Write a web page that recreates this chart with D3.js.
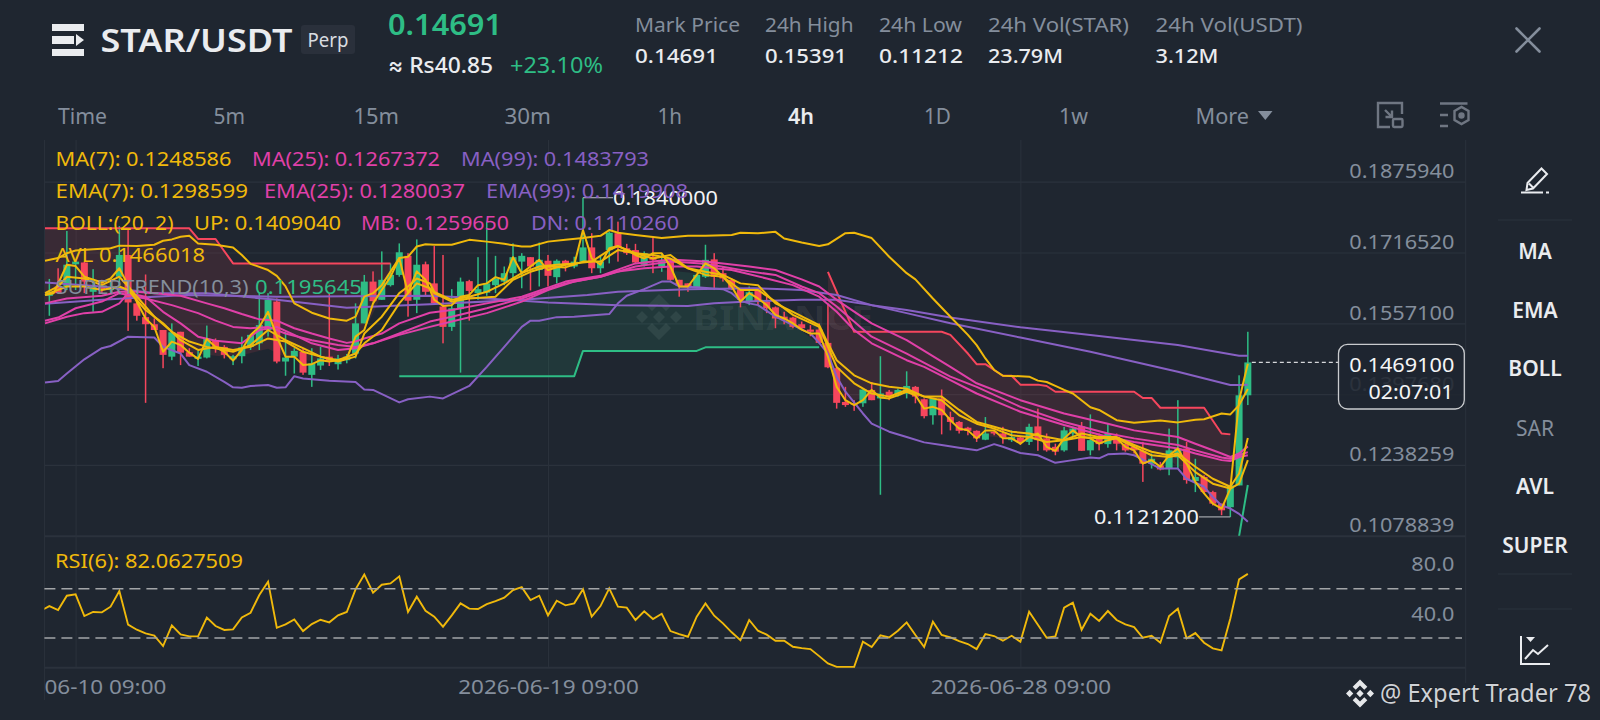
<!DOCTYPE html>
<html>
<head>
<meta charset="utf-8">
<title>STAR/USDT</title>
<script src="https://cdn.jsdelivr.net/npm/d3@7"></script>
<style>
html,body{margin:0;padding:0;background:#1f2630;overflow:hidden}
svg{display:block}
text{font-family:"Noto Sans",Inter,sans-serif}
</style>
</head>
<body>
<div id="chart"></div>
<script>
// prices are kept in ten-thousandths (1469 = 0.1469)
var firstCandle=-3;
var opens=[1619,1640,1640,1690,1694,1628,1640,1632,1662,1711,
1602,1571,1555,1542,1482,1538,1492,1477,1480,1519,
1504,1476,1483,1504,1512,1542,1606,1471,1482,1493,
1441,1462,1482,1465,1474,1489,1557,1651,1610,1643,
1666,1709,1610,1690,1647,1595,1549,1589,1652,1625,
1626,1643,1651,1670,1696,1706,1677,1698,1661,1698,
1685,1696,1728,1681,1722,1760,1726,1722,1689,1707,
1685,1696,1655,1647,1638,1662,1701,1670,1655,1634,
1606,1634,1606,1593,1572,1570,1555,1543,1543,1513,
1456,1380,1377,1377,1407,1388,1403,1395,1399,1414,
1386,1350,1388,1346,1335,1322,1315,1295,1313,1309,
1294,1300,1290,1325,1298,1279,1271,1309,1325,1271,
1298,1285,1301,1285,1279,1270,1241,1237,1230,1255,
1275,1202,1211,1177,1151,1143,1192,1395];
var closes=[1628,1625,1689,1696,1651,1640,1632,1640,1711,1604,
1574,1555,1542,1486,1537,1491,1482,1482,1523,1501,
1486,1483,1503,1531,1553,1610,1471,1480,1495,1446,
1467,1478,1471,1478,1482,1557,1651,1607,1655,1666,
1717,1608,1689,1628,1602,1549,1591,1651,1630,1634,
1647,1658,1670,1706,1709,1685,1700,1664,1698,1690,
1696,1728,1681,1696,1761,1728,1715,1694,1715,1700,
1698,1655,1641,1640,1666,1700,1662,1658,1634,1610,
1627,1606,1591,1568,1565,1549,1546,1538,1513,1458,
1378,1373,1374,1408,1384,1399,1392,1407,1416,1392,
1348,1388,1350,1335,1315,1315,1298,1309,1309,1300,
1301,1290,1324,1294,1271,1268,1316,1320,1270,1294,
1285,1309,1286,1271,1271,1241,1252,1228,1271,1275,
1204,1211,1177,1151,1136,1192,1395,1469];
var highs=[1657,1681,1765,1696,1696,1679,1655,1655,1776,1767,
1617,1667,1568,1542,1557,1538,1501,1495,1552,1523,
1508,1486,1527,1531,1625,1625,1613,1538,1501,1501,
1501,1504,1625,1486,1488,1602,1666,1674,1719,1692,
1737,1715,1746,1696,1731,1711,1634,1660,1655,1706,
1786,1709,1685,1737,1715,1706,1739,1711,1701,1700,
1707,1840,1760,1711,1764,1786,1736,1736,1719,1749,
1715,1703,1655,1647,1668,1734,1715,1685,1658,1636,
1640,1636,1617,1595,1583,1572,1561,1553,1557,1602,
1459,1414,1384,1408,1425,1483,1407,1410,1449,1416,
1388,1388,1408,1358,1337,1324,1316,1346,1316,1324,
1316,1301,1331,1365,1309,1286,1324,1324,1335,1352,
1309,1331,1309,1290,1285,1290,1264,1245,1320,1384,
1290,1252,1215,1180,1151,1192,1440,1538];
var lows=[1574,1625,1632,1632,1625,1583,1625,1625,1632,1540,
1563,1378,1542,1456,1474,1463,1482,1461,1478,1491,
1478,1463,1467,1497,1497,1527,1467,1439,1444,1441,
1414,1452,1461,1453,1467,1478,1557,1606,1610,1640,
1662,1572,1580,1617,1602,1512,1540,1446,1563,1610,
1619,1625,1643,1655,1636,1631,1640,1640,1647,1674,
1681,1696,1670,1670,1692,1696,1711,1692,1685,1670,
1673,1653,1617,1628,1636,1659,1632,1651,1632,1593,
1598,1598,1580,1546,1555,1546,1542,1528,1512,1456,
1365,1369,1360,1369,1384,1171,1384,1392,1388,1377,
1343,1329,1307,1316,1309,1305,1290,1294,1305,1286,
1290,1283,1283,1270,1268,1260,1268,1301,1270,1260,
1271,1277,1271,1268,1264,1200,1230,1226,1215,1230,
1196,1177,1175,1147,1125,1121,1192,1373];

// indicator lines: [candle index, price]
var ma7=[[-3.5,1621],[-1,1640],[1,1640],[3,1632],[5,1640],[6,1632],[8,1587],[10,1557],[12,1519],[14,1497],[16,1504],[18,1497],[20,1504],[22,1523],[24,1516],[26,1493],[28,1482],[30,1474],[32,1489],[33,1512],[35,1542],[37,1602],[38,1625],[39,1647],[40.5,1636],[41,1625],[43,1606],[45,1613],[48,1617],[50,1655],[52,1673],[54,1685],[56,1683],[58,1696],[60,1696],[62,1722],[64,1715],[66,1703],[68,1711],[70,1681],[72,1666],[74,1662],[76,1632],[78,1632],[80,1606],[82,1576],[85,1549],[86,1504],[87,1459],[89,1422],[91,1399],[93,1392],[95,1407],[97,1392],[99,1384],[101,1350],[103,1331],[105,1320],[107,1305],[109,1301],[111,1290],[113,1294],[115,1301],[117,1298],[119,1298],[121,1279],[123,1260],[125,1256],[126,1260],[128,1222],[130,1196],[132,1185],[133,1196],[134,1249]];
var ema7=[[-3.5,1625],[-2,1640],[-1,1662],[1,1658],[3,1643],[5,1662],[6,1640],[9,1572],[11,1538],[13,1516],[15,1504],[18,1493],[20,1508],[22,1542],[24,1519],[26,1501],[28,1482],[30,1471],[32,1482],[33,1534],[35,1572],[37,1625],[38,1640],[39,1658],[40.5,1647],[41,1628],[43,1610],[45,1617],[47,1628],[49,1647],[51,1670],[53,1685],[55,1689],[57,1692],[59,1696],[61,1722],[62,1731],[64,1715],[66,1711],[68,1703],[70,1681],[72,1673],[74,1666],[76,1647],[78,1643],[80,1602],[82,1583],[85,1553],[86,1512],[87,1474],[89,1440],[91,1422],[93,1414],[95,1410],[97,1392],[99,1392],[101,1362],[103,1335],[105,1324],[107,1313],[109,1309],[111,1301],[113,1294],[115,1309],[117,1301],[119,1301],[121,1283],[123,1268],[125,1260],[126,1264],[128,1234],[130,1207],[132,1189],[133,1219],[134,1299]];
var avl=[[-3.5,1621],[-2.5,1625],[-1,1689],[0,1686],[1,1662],[3,1649],[4,1658],[5,1681],[6,1643],[8,1568],[9,1549],[10,1493],[11,1516],[12,1508],[13,1491],[14,1477],[15,1522],[16,1504],[17,1493],[18,1473],[19,1497],[20,1531],[21,1549],[22,1583],[23,1527],[24,1482],[25,1482],[26,1463],[27,1465],[28,1474],[29,1471],[30,1474],[31,1478],[32,1527],[33,1542],[34,1602],[35,1632],[36,1662],[37,1704],[38,1625],[39,1674],[40,1655],[41,1610],[42,1596],[43,1598],[44,1617],[45,1621],[46,1643],[47,1647],[48,1661],[49,1655],[50,1706],[51,1670],[52,1685],[53,1700],[54,1677],[56,1689],[57,1689],[58,1767],[59,1703],[60,1689],[61,1726],[62,1731],[63,1722],[64,1711],[65,1703],[66,1715],[67,1715],[68,1685],[69,1640],[70,1640],[71,1666],[72,1692],[73,1681],[74,1662],[75,1640],[76,1606],[77,1625],[78,1613],[79,1598],[80,1576],[81,1568],[82,1557],[83,1543],[84,1534],[85,1534],[86,1482],[87,1414],[88,1384],[89,1373],[90,1384],[91,1407],[92,1390],[93,1388],[94,1395],[95,1403],[96,1395],[97,1365],[98,1369],[99,1362],[100,1339],[101,1320],[102,1316],[103,1298],[104,1316],[105,1316],[106,1298],[107,1298],[108,1286],[109,1301],[110,1309],[111,1279],[112,1270],[113,1298],[114,1316],[115,1301],[116,1298],[117,1286],[118,1294],[119,1298],[120,1279],[121,1271],[122,1241],[123,1249],[124,1234],[125,1260],[126,1275],[127,1241],[128,1200],[129,1174],[130,1151],[131,1140],[132,1185],[133,1384],[134,1466]];
var bollUp=[[-3.5,1698],[-2,1704],[-1,1715],[0,1721],[2,1724],[4,1726],[5,1732],[7,1731],[9,1734],[10,1743],[11,1746],[12,1752],[13,1754],[14,1737],[16,1734],[18,1728],[19,1711],[20,1691],[22,1677],[23,1664],[24,1640],[25,1602],[27,1581],[29,1568],[31,1563],[32,1572],[33,1617],[34,1625],[35,1643],[37,1704],[38,1707],[39,1730],[40,1735],[41,1734],[43,1734],[45,1745],[47,1741],[49,1736],[51,1730],[52,1730],[54,1741],[56,1745],[58,1749],[60,1754],[61,1767],[62,1761],[64,1756],[67,1749],[70,1754],[72,1754],[75,1756],[76,1761],[78,1760],[80,1763],[81,1748],[83,1739],[85,1731],[86,1735],[88,1760],[89,1761],[91,1749],[93,1707],[95,1670],[96,1656],[98,1613],[100,1572],[102,1531],[103,1508],[104,1478],[105,1452],[106,1439],[108,1438],[109,1437],[110,1428],[111,1425],[112,1416],[113,1407],[114,1399],[116,1368],[117,1362],[119,1339],[121,1333],[124,1338],[126,1334],[128,1340],[129,1341],[131,1354],[132,1352],[133,1373],[134,1409]];
var bollDn=[[-3.5,1424],[-2,1427],[-1,1444],[1,1476],[3,1501],[4,1506],[6,1527],[9,1525],[10,1504],[12,1489],[13,1463],[15,1448],[17,1425],[18,1413],[19,1412],[20,1416],[22,1418],[23,1412],[24,1413],[25,1438],[26,1433],[29,1428],[32,1425],[33,1408],[34,1407],[37,1379],[38,1386],[40.5,1392],[42,1388],[45,1416],[47,1459],[49,1504],[51,1549],[52,1563],[53,1563],[55,1571],[57,1572],[61,1578],[62,1602],[63,1619],[65,1634],[67,1651],[68,1651],[69,1640],[71,1638],[74,1634],[75,1625],[76,1608],[77,1602],[78,1598],[80,1572],[82,1553],[84,1534],[85,1513],[86,1489],[87,1437],[88,1403],[90,1354],[91,1331],[93,1313],[95,1301],[97,1289],[99,1283],[101,1277],[103,1271],[105,1285],[106,1279],[108,1265],[110,1260],[112,1243],[114,1249],[116,1255],[117,1253],[118,1262],[120,1264],[121,1260],[122,1250],[124,1230],[126,1230],[127,1207],[129,1189],[130,1166],[131,1147],[132,1140],[133,1128],[134,1110]];
var ema25=[[-3.5,1602],[-1,1613],[3,1619],[5,1628],[7,1628],[10,1623],[12,1619],[15,1602],[17,1591],[19,1578],[21,1566],[23,1563],[25,1546],[27,1534],[29,1523],[31,1513],[32,1516],[33,1523],[35,1534],[37,1557],[40.5,1581],[43,1587],[47,1602],[51,1617],[56,1651],[60,1664],[64,1692],[68,1701],[72,1696],[77,1685],[80,1677],[83,1656],[85,1640],[87,1610],[91,1557],[95,1519],[100,1459],[103,1422],[108,1384],[113,1354],[118,1331],[121,1316],[126,1301],[128,1286],[131,1264],[132,1256],[133,1264],[134,1280]];
var ma25=[[-3.5,1563],[-2,1570],[0,1591],[3,1606],[5,1625],[8,1613],[11,1598],[14,1580],[16,1563],[18,1549],[20,1546],[22,1549],[24,1534],[27,1519],[30,1508],[32,1504],[34,1512],[37,1534],[40.5,1561],[43,1572],[47,1591],[51,1613],[56,1647],[60,1662],[64,1685],[68,1696],[72,1691],[77,1674],[80,1666],[83,1640],[85,1625],[87,1595],[91,1527],[95,1489],[100,1437],[103,1414],[108,1369],[113,1335],[118,1309],[121,1298],[126,1283],[128,1271],[131,1255],[132,1252],[133,1260],[134,1267]];
var bollMb=[[-3.5,1557],[-1,1572],[1,1580],[3,1583],[5,1602],[6,1625],[8,1617],[10,1583],[12,1557],[14,1527],[16,1518],[19,1512],[21,1542],[23,1549],[25,1531],[27,1512],[30,1497],[32,1501],[34,1512],[37,1531],[40.5,1549],[43,1561],[47,1580],[51,1606],[54,1632],[57,1651],[60,1662],[62,1674],[65,1681],[68,1685],[71,1685],[75,1677],[79,1658],[82,1643],[85,1617],[87,1583],[89,1542],[91,1512],[95,1474],[97,1459],[100,1429],[103,1399],[108,1358],[113,1328],[118,1301],[121,1290],[126,1275],[128,1264],[131,1249],[132,1247],[133,1256],[134,1260]];
var ma99=[[-3.5,1649],[3,1640],[9,1625],[15,1625],[23,1610],[31,1592],[40.5,1600],[51,1610],[58.5,1621],[62,1628],[70,1634],[77.5,1636],[81,1634],[83,1632],[87,1621],[91,1598],[95,1587],[100,1570],[108,1548],[116,1531],[126,1508],[133,1484],[134,1484]];
var ema99=[[-3.5,1601],[3,1610],[9,1617],[12.7,1621],[23,1617],[40.5,1619],[47,1613],[54,1604],[62,1598],[70,1596],[73,1602],[77.5,1607],[83,1610],[87,1610],[91,1598],[95,1580],[100,1557],[108,1525],[116,1493],[126,1448],[132,1418],[133,1418],[134,1419]];

// supertrend segments and the edge their shading closes on
var superDownA=[[-3.5,1771],[13,1771],[14,1747],[16,1747],[18,1692],[36,1692]];
var superDownAEdge=[[-3.5,1600],[3,1620],[6,1625],[8,1570],[10,1510],[13,1490],[18,1480],[22,1500],[24,1480],[28,1470],[31,1478],[33,1540],[36,1660]];
var superUp=[[37,1438],[57,1438],[58,1495],[71,1495],[72,1503],[85,1503]];
var superUpEdge=[[37,1540],[40,1553],[43,1561],[47,1580],[51,1606],[54,1632],[57,1651],[60,1662],[62,1674],[65,1681],[71,1670],[75,1650],[78,1620],[81,1570],[85,1510]];
var superDownB=[[86,1673],[89,1538],[99,1538],[100,1531],[102,1489],[103,1465],[104,1465],[106,1439],[107,1439],[108,1419],[110,1419],[111,1416],[112,1403],[121,1403],[122,1389],[123,1389],[124,1367],[129,1367],[131,1309],[132,1307]];
var superDownBEdge=[[86,1510],[88,1375],[90,1390],[95,1400],[99,1360],[103,1305],[108,1295],[113,1295],[118,1295],[122,1250],[125,1250],[128,1205],[131,1140],[132,1160]];
var superUpLast=[[133,1078],[134,1193]];

var firstRsi=-4;
var rsiValues=[52,55.9,52.7,64.3,65.4,47.8,51.1,50.8,55.4,68.1,
40.8,36.7,33.7,31.9,23.5,40.2,32.9,31.3,31.3,46.5,
39.7,36.5,37,46.7,50.5,64.9,75.7,38.3,41,45.1,
35.6,41.3,44.8,42.7,48.4,51.1,69.5,81.6,66.7,73.2,
74.3,80,51.1,63.5,52.1,47.3,39.2,48.4,58.1,53.8,
53.5,57.5,60,62.7,68.9,71.3,60.8,64.3,48.4,60.3,
56.5,58.1,69.5,47.3,55.9,70.3,55.4,54.6,44.6,51.6,
45.4,49.7,35.6,33.2,31,47.3,58.1,48.1,41.9,34.6,
28.3,44.6,35.9,32.7,27.8,27.8,22.9,21.8,21,15.3,
9.4,6.6,6.6,6.6,27,22.7,32.1,30.5,35.9,42.7,
32.4,22.7,43.2,32.4,30.5,27.5,25.1,21,33.2,31.6,
27.8,31.8,27,51.3,40.8,30.2,31.3,54.6,58.6,36.7,
49.7,43.8,51.9,44.6,41,38.9,30.2,31.8,26.2,47.8,
53.8,29.7,34,26.2,21.6,20,45.9,77.6,82.06];

var priceTicks=[1875.94,1716.52,1557.1,1397.68,1238.259,1078.839];
var rsiTicks=[80,40];
var rsiBands=[70,30];
var timeTicks=[0,54,108];
var timeLabels=["2026-06-10 09:00","2026-06-19 09:00","2026-06-28 09:00"];
var intervals=["Time","5m","15m","30m","1h","4h","1D","1w","More"];
var intervalLeft=[58,213.5,353.5,504.5,657.5,788,924,1059,1195.5];
var intervalWidth=[49,31.5,45.5,46.5,24.5,26,27,29,53.5];
var statNames=["Mark Price","24h High","24h Low","24h Vol(STAR)","24h Vol(USDT)"];
var statValues=["0.14691","0.15391","0.11212","23.79M","3.12M"];
var statLeft=[635,765,879,988,1155.5];
var statNameWidth=[105,88.5,83,141,147];
var statValueWidth=[83,82,84,75,63];
var sideTools=["MA","EMA","BOLL","SAR","AVL","SUPER"];
var sideActive=[true,true,true,false,true,true];

var W=1600,H=720;
var C={bg:"#1f2630",grid:"#2b323c",up:"#2ebd85",down:"#f6465d",gold:"#f0b90b",pink:"#e040a8",purple:"#8860c4",grey:"#848e9c",white:"#eaecef"};
var plotLeft=44.4,plotRight=1465.7,plotTop=140,priceBottom=535.7,rsiBottom=667.7;

var svg=d3.select("#chart").append("svg").attr("width",W).attr("height",H).attr("viewBox","0 0 "+W+" "+H);
svg.append("rect").attr("width",W).attr("height",H).attr("fill",C.bg);

var x=d3.scaleLinear().domain([0,134]).range([75.6,75.6+134*8.748]);
var y=d3.scaleLinear().domain([1875.94,1078.839]).range([181.7,535.7]);
var yRsi=d3.scaleLinear().domain([70,30]).range([588.7,638]);

var defs=svg.append("defs");
function clip(id,x0,y0,x1,y1){
 defs.append("clipPath").attr("id",id).append("rect").attr("x",x0).attr("y",y0).attr("width",x1-x0).attr("height",y1-y0);
}
clip("clipPrice",plotLeft,plotTop,plotRight,priceBottom);
clip("clipRsi",plotLeft,priceBottom,plotRight,rsiBottom+1);
clip("clipAxis",plotLeft,plotTop,plotRight,H);

function label(g,str,px,py,o){
 o=o||{};
 var t=g.append("text").attr("x",px).attr("y",py).text(str)
  .attr("font-size",o.size||20.5).attr("fill",o.fill||C.grey).attr("font-weight",o.weight||400)
  .attr("text-anchor",o.anchor||"start");
 if(o.width) t.attr("textLength",o.width).attr("lengthAdjust","spacingAndGlyphs");
 return t;
}

// grid and axes
var axisG=svg.append("g").attr("clip-path","url(#clipAxis)");
var yAxis=d3.axisRight(y).tickValues(priceTicks).tickSize(plotRight-plotLeft).tickFormat(function(d){return d3.format(".7f")(d/1e4);});
var yAxisG=axisG.append("g").attr("transform","translate("+plotLeft+",0)").call(yAxis);
yAxisG.select(".domain").remove();
yAxisG.selectAll("line").attr("stroke",C.grid).attr("stroke-width",function(d){return d==1078.839?2:1.2;});
yAxisG.selectAll("text").attr("x",1454.3-plotLeft).attr("y",-4).attr("dy",0).attr("text-anchor","end")
 .attr("fill",C.grey).attr("font-size",20.5).attr("font-family",null).attr("textLength",105).attr("lengthAdjust","spacingAndGlyphs");

var xAxis=d3.axisBottom(x).tickValues(timeTicks).tickSize(-(rsiBottom-plotTop)).tickFormat(function(d,i){return timeLabels[i];});
var xAxisG=axisG.append("g").attr("transform","translate(0,"+rsiBottom+")").call(xAxis);
xAxisG.select(".domain").remove();
xAxisG.selectAll("line").attr("stroke",C.grid).attr("stroke-width",1);
xAxisG.selectAll("text").attr("y",26).attr("dy",0).attr("fill",C.grey).attr("font-size",20.5).attr("font-family",null)
 .attr("textLength",180.5).attr("lengthAdjust","spacingAndGlyphs");

var frame=svg.append("g").attr("stroke",C.grid);
frame.append("line").attr("x1",plotLeft).attr("x2",plotLeft).attr("y1",plotTop).attr("y2",700);
frame.append("line").attr("x1",plotRight).attr("x2",plotRight).attr("y1",plotTop).attr("y2",683);
frame.append("line").attr("x1",plotLeft).attr("x2",plotRight).attr("y1",rsiBottom).attr("y2",rsiBottom).attr("stroke-width",2);

// watermark
var mark=svg.append("g").attr("fill","#ffffff").attr("fill-opacity",0.075);
function binanceLogo(g,cx,cy,s){
 var k=s/23;
 var m=g.append("g").attr("transform","translate("+cx+","+cy+") scale("+k+")");
 m.append("path").attr("d","M0-23L12-11 7-6 0-13-7-6-12-11ZM0 23L12 11 7 6 0 13-7 6-12 11ZM-23 0L-17-6-11 0-17 6ZM23 0L17-6 11 0 17 6ZM0-6L6 0 0 6-6 0Z");
}
binanceLogo(mark,659,317,23);
label(mark,"BINANCE",693,330,{size:34,weight:700,fill:"#ffffff",width:180});

// supertrend shading
var line=d3.line().x(function(d){return x(d[0]);}).y(function(d){return y(d[1]);});
var priceG=svg.append("g").attr("clip-path","url(#clipPrice)");
function shade(top,edge,color){
 priceG.append("path").attr("d",line(top.concat(edge.slice().reverse()))+"Z").attr("fill",color).attr("fill-opacity",0.12).attr("stroke","none");
}
shade(superDownA,superDownAEdge,C.down);
shade(superUp,superUpEdge,C.up);
shade(superDownB,superDownBEdge,C.down);

// candles
var candles=opens.map(function(o,i){return {i:i+firstCandle,o:o,h:highs[i],l:lows[i],c:closes[i]};});
var candle=priceG.selectAll("g.candle").data(candles).enter().append("g").attr("class","candle")
 .attr("fill",function(d){return d.c>=d.o?C.up:C.down;});
candle.append("rect").attr("x",function(d){return x(d.i)-0.75;}).attr("width",1.5)
 .attr("y",function(d){return y(d.h);}).attr("height",function(d){return y(d.l)-y(d.h);});
candle.append("rect").attr("x",function(d){return x(d.i)-3.5;}).attr("width",7)
 .attr("y",function(d){return y(Math.max(d.o,d.c));}).attr("height",function(d){return Math.max(1,Math.abs(y(d.o)-y(d.c)));});

function stroke(data,color,w){
 priceG.append("path").datum(data).attr("d",line).attr("fill","none").attr("stroke",color).attr("stroke-width",w||2).attr("stroke-linejoin","round");
}
stroke(superDownA,C.down);stroke(superDownB,C.down);stroke(superUp,C.up);stroke(superUpLast,C.up);
stroke(ma99,C.purple);stroke(ema99,C.purple);stroke(bollDn,C.purple);
stroke(ema25,C.pink);stroke(ma25,C.pink);stroke(bollMb,C.pink);
stroke(bollUp,C.gold);stroke(ma7,C.gold);stroke(ema7,C.gold);stroke(avl,C.gold);

// last price dashes
svg.append("line").attr("x1",x(134)+4).attr("x2",1338).attr("y1",y(1469.1)).attr("y2",y(1469.1))
 .attr("stroke","#d5d7da").attr("stroke-width",1.2).attr("stroke-dasharray","4 3");

// RSI panel
var rsiG=svg.append("g").attr("clip-path","url(#clipRsi)");
var rsiLine=d3.line().x(function(d,i){return x(i+firstRsi);}).y(function(d){return yRsi(d);});
rsiG.append("path").datum(rsiValues).attr("d",rsiLine).attr("fill","none").attr("stroke",C.gold).attr("stroke-width",1.9);
svg.selectAll("line.band").data(rsiBands).enter().append("line").attr("class","band")
 .attr("x1",plotLeft).attr("x2",1462).attr("y1",function(d){return yRsi(d);}).attr("y2",function(d){return yRsi(d);})
 .attr("stroke","#a3a5a8").attr("stroke-width",1.6).attr("stroke-dasharray","11 6");
var rsiAxis=d3.axisRight(yRsi).tickValues(rsiTicks).tickSize(0).tickFormat(d3.format(".1f"));
var rsiAxisG=svg.append("g").call(rsiAxis);
rsiAxisG.select(".domain").remove();
rsiAxisG.selectAll("text").attr("x",1454.3).attr("y",-5.5).attr("dy",0).attr("text-anchor","end")
 .attr("fill",C.grey).attr("font-size",20.5).attr("font-family",null).attr("textLength",43).attr("lengthAdjust","spacingAndGlyphs");

// high / low callouts
var note=svg.append("g");
note.append("path").attr("d","M"+x(58)+" "+y(1840)+"H613").attr("fill","none").attr("stroke","#9a9ea4").attr("stroke-width",1.3);
note.append("path").attr("d","M1199 "+y(1121.2)+"H"+x(132)).attr("fill","none").attr("stroke","#9a9ea4").attr("stroke-width",1.3);
label(note,"0.1840000",613,205,{fill:"#f2f3f5",width:105});
label(note,"0.1121200",1094,524,{fill:"#f2f3f5",width:105});

// indicator legend
var leg=svg.append("g");
var row1=165.7,row2=197.7,row3=230,row4=261.7,row5=294;
label(leg,"MA(7): 0.1248586",55.5,row1,{fill:C.gold,width:176});
label(leg,"MA(25): 0.1267372",252,row1,{fill:C.pink,width:188});
label(leg,"MA(99): 0.1483793",461,row1,{fill:C.purple,width:188});
label(leg,"EMA(7): 0.1298599",55.5,row2,{fill:C.gold,width:192.5});
label(leg,"EMA(25): 0.1280037",264,row2,{fill:C.pink,width:201});
label(leg,"EMA(99): 0.1419908",486,row2,{fill:C.purple,width:202});
label(leg,"BOLL:(20, 2)",55.5,row3,{fill:C.gold,width:118});
label(leg,"UP: 0.1409040",194,row3,{fill:C.gold,width:147});
label(leg,"MB: 0.1259650",361,row3,{fill:C.pink,width:148});
label(leg,"DN: 0.1110260",531,row3,{fill:C.purple,width:148});
label(leg,"AVL 0.1466018",55.5,row4,{fill:C.gold,width:149.5});
label(leg,"SUPERTREND(10,3)",55.5,row5,{fill:C.grey,width:193});
label(leg,"0.1195645",255,row5,{fill:C.up,width:107});
label(leg,"RSI(6): 82.0627509",55,568,{fill:C.gold,width:188});

// price box
var box=svg.append("g");
box.append("rect").attr("x",1338.5).attr("y",344.3).attr("width",125.8).attr("height",64.7).attr("rx",9)
 .attr("fill",C.bg).attr("fill-opacity",0.88).attr("stroke","#c9cbce").attr("stroke-width",1.3);
label(box,"0.1469100",1454.3,371.7,{fill:"#f4f5f6",anchor:"end",width:105});
label(box,"02:07:01",1453.5,399.3,{fill:"#f4f5f6",anchor:"end",width:85});

// header
var head=svg.append("g");
head.append("path").attr("d","M52 24h32v7H52zM52 36h22v8H52zM52 49h32v7H52zM76 34l8 6-8 6z").attr("fill",C.white);
label(head,"STAR/USDT",100.5,52,{size:33,weight:600,fill:"#eaecef",width:192});
head.append("rect").attr("x",301).attr("y",25).attr("width",54).attr("height",29).attr("rx",3).attr("fill","#2a303b");
label(head,"Perp",307.5,47,{size:20,fill:"#d9dce0",width:41});
label(head,"0.14691",388,35,{size:28,weight:600,fill:C.up,width:114});
label(head,"≈ Rs40.85",388,72.7,{size:22,weight:500,fill:C.white,width:105});
label(head,"+23.10%",510,72.7,{size:22,fill:C.up,width:93});
statNames.forEach(function(s,i){
 label(head,s,statLeft[i],31.7,{size:20,fill:C.grey,width:statNameWidth[i]});
 label(head,statValues[i],statLeft[i],63.3,{size:20,weight:500,fill:C.white,width:statValueWidth[i]});
});
intervals.forEach(function(s,i){
 label(head,s,intervalLeft[i],124,{size:22,fill:s=="4h"?C.white:C.grey,weight:s=="4h"?600:400,width:intervalWidth[i]});
});
head.append("path").attr("d","M1258 111h14.5l-7.2 9z").attr("fill",C.grey);
head.append("path").attr("d","M1516.5 28.5l23 23M1539.5 28.5l-23 23").attr("stroke",C.grey).attr("stroke-width",2.6).attr("stroke-linecap","round");

// toolbar icons
var icons=svg.append("g").attr("fill","none").attr("stroke","#6f7682").attr("stroke-width",2.4);
icons.append("path").attr("d","M1390 127H1378V103H1402V114M1385 110l7 7M1392 110.500V117H1385.500");
icons.append("rect").attr("x",1393).attr("y",119).attr("width",9.5).attr("height",8).attr("rx",1.2);
icons.append("path").attr("d","M1440 103.500h27.500M1440 115h8M1440 126h8M1454.500 111l7-4 7 4v9l-7 4-7-4z");
icons.append("circle").attr("cx",1461.500).attr("cy",115.500).attr("r",2).attr("fill","#6f7682");

// side bar
var side=svg.append("g");
sideTools.forEach(function(s,i){
 var centres=[251,310,368.7,428,486.7,545];
 label(side,s,1535,centres[i]+7.5,{size:21,weight:sideActive[i]?600:400,fill:sideActive[i]?"#eaecef":C.grey,anchor:"middle"});
});
[220,574,609].forEach(function(v){
 side.append("line").attr("x1",1498).attr("x2",1572).attr("y1",v).attr("y2",v).attr("stroke",C.grid).attr("stroke-width",1.2);
});
side.append("path").attr("d","M1526.500 190l1-7 14-14.500 5.500 5.500-14 14.500zM1529 183.500l5 5M1521 192.500h22M1546 192.500h3").attr("fill","none").attr("stroke","#eaecef").attr("stroke-width",2);
side.append("path").attr("d","M1521 636v28h29M1525 659l8-9 5 4 10-9").attr("fill","none").attr("stroke","#eaecef").attr("stroke-width",2);
side.append("path").attr("d","M1526 637h9l-4.500 5z").attr("fill","#eaecef");

// credit
var credit=svg.append("g");
binanceLogo(credit.append("g").attr("fill","#e6e8ea"),1360,693.500,14);
label(credit,"@ Expert Trader 78",1380,702,{size:25,fill:"#cfd2d6",width:211}).style("paint-order","stroke").attr("stroke","#14181e").attr("stroke-width",0.8);
</script>
</body>
</html>
